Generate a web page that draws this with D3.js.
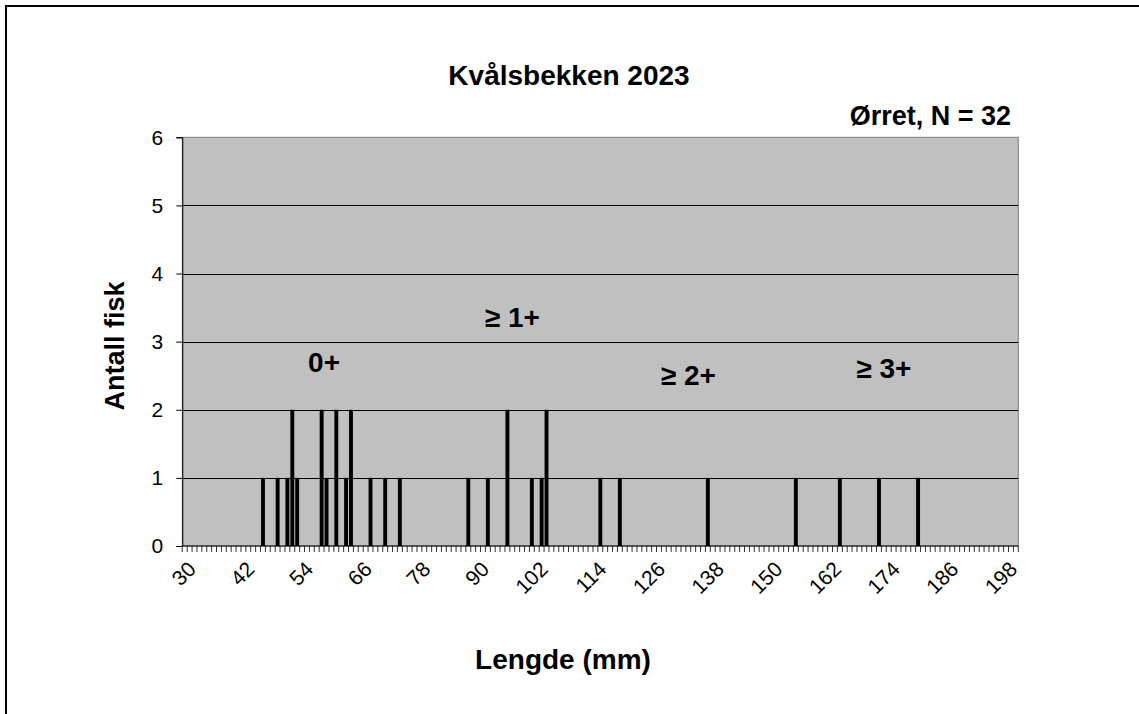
<!DOCTYPE html>
<html lang="no">

<head>
  <meta charset="UTF-8">
  <title>Kvålsbekken 2023</title>
  <script src="https://d3js.org/d3.v7.min.js"></script>
  <style>
    body { margin: 0; background: #fff; }
    text { font-family: "Liberation Sans", Arial, sans-serif; fill: #000; }
  </style>
</head>

<body>
<svg></svg>

<script>
  // lengdeklasser (mm) med fisk, og antall fisk i hver
  const lengths = [46, 49, 51, 52, 53, 58, 59, 61, 63, 64, 68, 71, 74, 88, 92, 96, 101, 103, 104, 115, 119, 137, 155, 164, 172, 180]
  const counts = [1, 1, 1, 2, 1, 2, 1, 2, 1, 2, 1, 1, 1, 1, 1, 2, 1, 1, 2, 1, 1, 1, 1, 1, 1, 1]

  // kategoriaksen går fra 30 til 200 mm
  const categories = d3.range(30, 201)
  const xTickLabels = [30, 42, 54, 66, 78, 90, 102, 114, 126, 138, 150, 162, 174, 186, 198]
  const yTicks = [0, 1, 2, 3, 4, 5, 6]

  // aldersgrupper skrevet inn i plottet (midtpunkt i mm, grunnlinje i antall)
  const groupLabels = ['0+', '≥ 1+', '≥ 2+', '≥ 3+']
  const groupX = [58.5, 97, 133, 173]
  const groupY = [2.56, 3.22, 2.37, 2.47]

  const width = 1139
  const height = 714
  const plot = { left: 182.3, right: 1018.3, top: 137.3, bottom: 546 }

  const svg = d3.select('svg')
    .attr('width', width)
    .attr('height', height)

  // ytre ramme
  svg.append('rect')
    .attr('x', 6)
    .attr('y', 6)
    .attr('width', width + 20)
    .attr('height', height + 20)
    .attr('fill', 'none')
    .attr('stroke', '#000')
    .attr('stroke-width', 2)

  const pad = 0.2
  const x = d3.scaleBand()
    .domain(categories)
    .range([plot.left, plot.right])
    .paddingInner(pad)
    .paddingOuter(pad / 2)

  // midten av en kategori, også for halve mm
  const xMid = v => x(Math.floor(v)) + x.bandwidth() / 2 + (v % 1) * x.step()

  const y = d3.scaleLinear()
    .domain([0, 6])
    .range([plot.bottom, plot.top])

  // plottområde
  svg.append('rect')
    .attr('x', plot.left)
    .attr('y', plot.top)
    .attr('width', plot.right - plot.left)
    .attr('height', plot.bottom - plot.top)
    .attr('fill', '#c0c0c0')
    .attr('stroke', '#808080')
    .attr('stroke-width', 1)

  // rutenett
  svg.append('g')
    .selectAll('line')
    .data(yTicks.filter(d => d > 0 && d < 6))
    .join('line')
    .attr('x1', plot.left)
    .attr('x2', plot.right)
    .attr('y1', d => Math.round(y(d)) + 0.5)
    .attr('y2', d => Math.round(y(d)) + 0.5)
    .attr('stroke', '#000')
    .attr('stroke-width', 1)

  // søyler
  svg.append('g')
    .selectAll('rect')
    .data(lengths.map((l, i) => ({ l: l, n: counts[i] })))
    .join('rect')
    .attr('x', d => x(d.l))
    .attr('width', x.bandwidth())
    .attr('y', d => y(d.n))
    .attr('height', d => y(0) - y(d.n))
    .attr('fill', '#000')

  // y-akse
  const yAxis = svg.append('g')
    .attr('transform', `translate(${plot.left},0)`)
    .call(d3.axisLeft(y).tickValues(yTicks).tickSize(6).tickPadding(13).tickFormat(d3.format('d')))
  yAxis.select('.domain').attr('stroke', '#000')
  yAxis.selectAll('text')
    .style('font-size', '21px')
    .style('font-family', '"Liberation Sans", Arial, sans-serif')

  // x-akse: små streker mellom hver kategori
  const step = x.step()
  const bounds = categories.map(c => x(c) - step * pad / 2).concat([plot.right])
  const xAxis = svg.append('g')
  xAxis.append('line')
    .attr('x1', plot.left)
    .attr('x2', plot.right)
    .attr('y1', plot.bottom)
    .attr('y2', plot.bottom)
    .attr('stroke', '#000')
  xAxis.selectAll('line.tick')
    .data(bounds)
    .join('line')
    .attr('class', 'tick')
    .attr('x1', d => d)
    .attr('x2', d => d)
    .attr('y1', plot.bottom)
    .attr('y2', plot.bottom + 6)
    .attr('stroke', '#000')
    .attr('stroke-width', 0.8)

  xAxis.selectAll('text')
    .data(xTickLabels)
    .join('text')
    .attr('transform', d => `translate(${xMid(d) + 2},${plot.bottom + 14}) rotate(-45)`)
    .attr('text-anchor', 'end')
    .attr('dy', '0.7em')
    .style('font-size', '21px')
    .text(d => d)

  // titler
  svg.append('text')
    .attr('x', 569)
    .attr('y', 85)
    .attr('text-anchor', 'middle')
    .style('font-size', '28px')
    .style('font-weight', 'bold')
    .text('Kvålsbekken 2023')

  svg.append('text')
    .attr('x', 1011)
    .attr('y', 125)
    .attr('text-anchor', 'end')
    .style('font-size', '27px')
    .style('font-weight', 'bold')
    .text('Ørret, N = 32')

  svg.append('text')
    .attr('transform', `translate(124,346) rotate(-90)`)
    .attr('text-anchor', 'middle')
    .style('font-size', '27px')
    .style('font-weight', 'bold')
    .text('Antall fisk')

  svg.append('text')
    .attr('x', 563)
    .attr('y', 669)
    .attr('text-anchor', 'middle')
    .style('font-size', '28px')
    .style('font-weight', 'bold')
    .text('Lengde (mm)')

  svg.append('g')
    .selectAll('text')
    .data(groupLabels)
    .join('text')
    .attr('x', (d, i) => xMid(groupX[i]))
    .attr('y', (d, i) => y(groupY[i]))
    .attr('text-anchor', 'middle')
    .style('font-size', '28px')
    .style('font-weight', 'bold')
    .text(d => d)
</script>

</body>

</html>
